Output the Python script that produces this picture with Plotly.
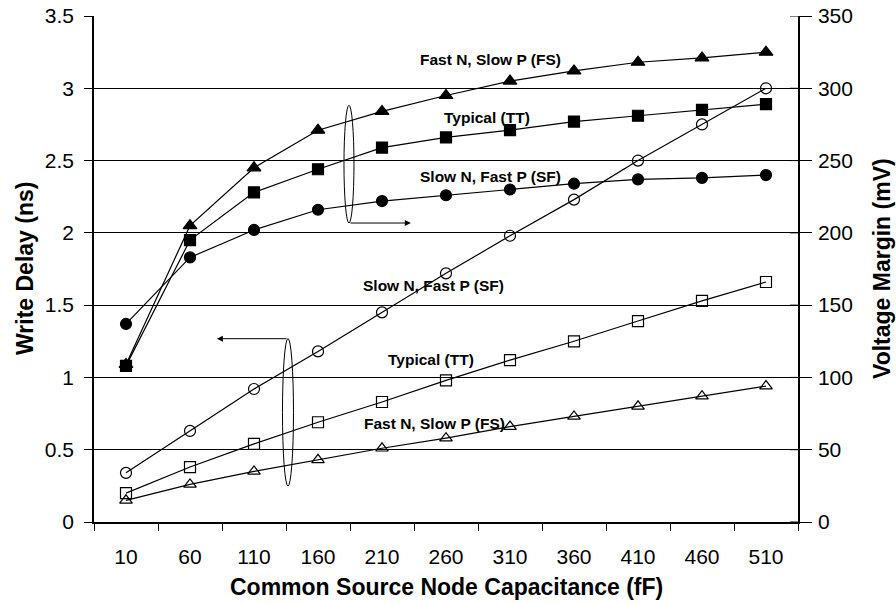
import plotly.graph_objects as go

capacitance = ["10", "60", "110", "160", "210", "260", "310", "360", "410", "460", "510"]

# Write delay (ns) - open markers, left axis
delay_sf = [0.34, 0.63, 0.92, 1.18, 1.45, 1.72, 1.98, 2.23, 2.50, 2.75, 3.00]
delay_tt = [0.20, 0.38, 0.54, 0.69, 0.83, 0.98, 1.12, 1.25, 1.39, 1.53, 1.66]
delay_fs = [0.15, 0.26, 0.35, 0.43, 0.51, 0.58, 0.66, 0.73, 0.80, 0.87, 0.94]

# Voltage margin (mV) - filled markers, right axis
margin_fs = [109, 205, 245, 271, 284, 295, 305, 312, 318, 321, 325]
margin_tt = [108, 195, 228, 244, 259, 266, 271, 277, 281, 285, 289]
margin_sf = [137, 183, 202, 216, 222, 226, 230, 234, 237, 238, 240]

margin_ticks = [0, 50, 100, 150, 200, 250, 300, 350]

FONT = "Liberation Sans, Arial, sans-serif"
line = dict(color="black", width=1.2)

fig = go.Figure()

def add(y, symbol, size, axis, name):
    fig.add_trace(go.Scatter(
        x=capacitance, y=y, mode="lines+markers", name=name, yaxis=axis,
        line=line,
        marker=dict(symbol=symbol, size=size, color="black",
                    line=dict(color="black", width=1.2)),
    ))

add(margin_fs, "triangle-up", 12, "y2", "FS margin")
add(margin_tt, "square", 11, "y2", "TT margin")
add(margin_sf, "circle", 11, "y2", "SF margin")
add(delay_sf, "circle-open", 11, "y", "SF delay")
add(delay_tt, "square-open", 11, "y", "TT delay")
add(delay_fs, "triangle-up-open", 11, "y", "FS delay")

labels = [
    ("Fast N, Slow P (FS)", 5.695, 3.20),
    ("Typical (TT)", 5.64, 2.80),
    ("Slow N, Fast P (SF)", 5.703, 2.39),
    ("Slow N, Fast P (SF)", 4.808, 1.637),
    ("Typical (TT)", 4.773, 1.125),
    ("Fast N, Slow P (FS)", 4.82, 0.68),
]
annotations = []
for text, xv, yv in labels:
    annotations.append(dict(
        text=text, x=xv, y=yv, xref="x", yref="y", showarrow=False,
        xanchor="center", yanchor="middle",
        font=dict(family=FONT, size=15.5, color="black", weight="bold"),
    ))

# arrows from the ellipses
annotations.append(dict(x=4.45, y=2.068, ax=3.484, ay=2.068, xref="x", yref="y",
                        axref="x", ayref="y", showarrow=True, arrowhead=2,
                        arrowsize=1.2, arrowwidth=1, arrowcolor="black", text=""))
annotations.append(dict(x=1.42, y=1.268, ax=2.531, ay=1.268, xref="x", yref="y",
                        axref="x", ayref="y", showarrow=True, arrowhead=2,
                        arrowsize=1.2, arrowwidth=1, arrowcolor="black", text=""))

# axis titles
annotations.append(dict(text="Common Source Node Capacitance (fF)", x=0.5, y=0,
                        xref="paper", yref="paper", yshift=-65, showarrow=False,
                        xanchor="center", yanchor="middle",
                        font=dict(family=FONT, size=23, color="black", weight="bold")))
annotations.append(dict(text="Write Delay (ns)", x=0, y=0.5, xref="paper", yref="paper",
                        xshift=-69, textangle=-90, showarrow=False,
                        xanchor="center", yanchor="middle",
                        font=dict(family=FONT, size=23, color="black", weight="bold")))
annotations.append(dict(text="Voltage Margin (mV)", x=1, y=0.5, xref="paper", yref="paper",
                        xshift=84, textangle=-90, showarrow=False,
                        xanchor="center", yanchor="middle",
                        font=dict(family=FONT, size=23, color="black", weight="bold")))

shapes = [
    dict(type="circle", xref="x", yref="y", x0=3.406, x1=3.562, y0=2.068, y1=2.882,
         line=dict(color="black", width=1)),
    dict(type="circle", xref="x", yref="y", x0=2.445, x1=2.617, y0=0.249, y1=1.269,
         line=dict(color="black", width=1)),
]
# inner halves of the right-axis ticks (ticks cross the axis line)
for v in margin_ticks:
    shapes.append(dict(type="line", xref="paper", yref="y2", xsizemode="pixel",
                       xanchor=1, x0=-8, x1=0, y0=v, y1=v,
                       line=dict(color="black", width=1)))

fig.update_layout(
    template="none",
    width=896, height=604,
    margin=dict(l=94, r=98, t=16, b=82),
    paper_bgcolor="white", plot_bgcolor="white",
    showlegend=False,
    font=dict(family=FONT, size=21, color="black"),
    annotations=annotations,
    shapes=shapes,
    xaxis=dict(type="category", range=[-0.5, 10.5], tickson="boundaries",
               ticks="outside", ticklen=7, tickcolor="black", tickwidth=1,
               showline=True, linecolor="black", linewidth=1.5,
               showgrid=False, ticklabelstandoff=15, automargin=False,
               tickfont=dict(family=FONT, size=21)),
    yaxis=dict(range=[0, 3.5], dtick=0.5, tick0=0, ticks="outside", ticklen=8,
               tickcolor="black", tickwidth=1, showline=True, linecolor="black",
               linewidth=1.5, showgrid=True, gridcolor="black", gridwidth=1,
               zeroline=False, automargin=False,
               ticklabelstandoff=6, tickfont=dict(family=FONT, size=21)),
    yaxis2=dict(range=[0, 350], dtick=50, tick0=0, overlaying="y", side="right",
                ticks="outside", ticklen=12, tickcolor="black", tickwidth=1,
                showline=True, linecolor="black", linewidth=1.5, showgrid=False,
                zeroline=False, automargin=False,
                ticklabelstandoff=2, tickfont=dict(family=FONT, size=21)),
)

fig.write_html("out.html")
